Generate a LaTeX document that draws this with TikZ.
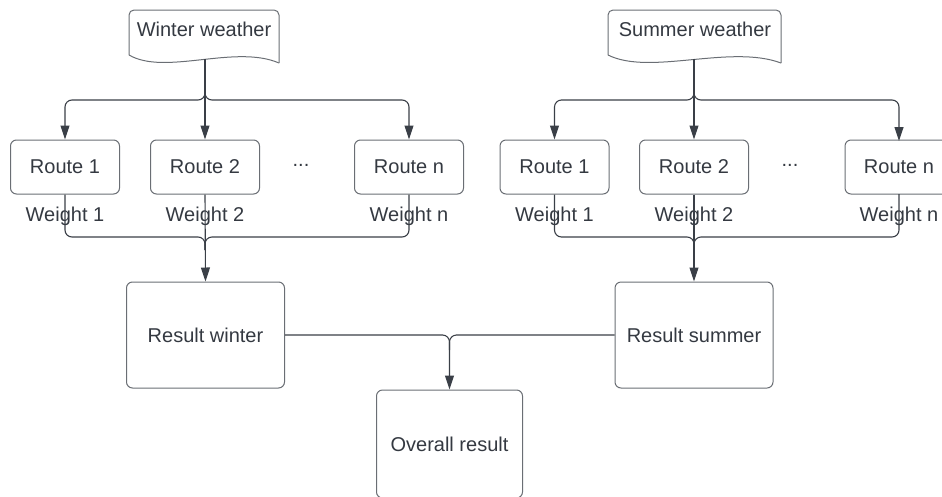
\documentclass[tikz,border=0pt]{standalone}
\usepackage{fontspec}
\setmainfont{Liberation Sans}
\usetikzlibrary{arrows.meta}
\definecolor{ink}{HTML}{3A3F47}
\definecolor{edge}{HTML}{6A6E74}
\definecolor{txt}{HTML}{343941}
\tikzset{
  lbl/.style={text=txt, font=\fontsize{20}{24}\selectfont, inner sep=0pt},
  routebox/.style={lbl, draw=edge, line width=1pt, rounded corners=6pt,
    minimum width=109pt, minimum height=54pt},
  resultbox/.style={lbl, draw=edge, line width=1pt, rounded corners=6pt,
    minimum width=158pt, minimum height=106pt},
  docshape/.style={draw=edge, line width=1pt},
  link/.style={draw=ink, line width=1.1pt, rounded corners=7pt},
  flow/.style={link, -{Triangle[length=14pt,width=9pt]}},
}
\begin{document}
\begin{tikzpicture}[x=1pt,y=-1pt]
\useasboundingbox (0,0) rectangle (942,496);
\clip (0,0) rectangle (942,496);

% weather documents (wavy-bottom shapes)
\draw[docshape, rounded corners=5pt] (129,55) -- (129,10) -- (279,10) -- (279,63);
\draw[docshape] (129,55) .. controls (165,76) and (235,44) .. (279,63);
\node[lbl] (ww) at (204,29) {Winter weather};
\coordinate (wwb) at (205,59);
\coordinate (wwj) at (205,88);

\draw[docshape, rounded corners=5pt] (608,55) -- (608,10) -- (781,10) -- (781,63);
\draw[docshape] (608,55) .. controls (650,76) and (730,44) .. (781,63);
\node[lbl] (sw) at (695,29) {Summer weather};
\coordinate (swb) at (694,59);
\coordinate (swj) at (694,88);

% winter routes
\node[routebox] (wr1) at (65,167) {Route 1};
\node[routebox] (wr2) at (205,167) {Route 2};
\node[routebox] (wrn) at (409,167) {Route n};
\node[lbl] (wdots) at (301,165) {...};
\node[lbl] (ww1) at (65,216) {Weight 1};
\node[lbl] (ww2) at (205,216) {Weight 2};
\node[lbl] (wwn) at (409,216) {Weight n};

% summer routes
\node[routebox] (sr1) at (554.5,167) {Route 1};
\node[routebox] (sr2) at (694,167) {Route 2};
\node[routebox, minimum width=110pt] (srn) at (900,167) {};
\node[lbl] (srnt) at (899,167) {Route n};
\node[lbl] (sdots) at (790,165) {...};
\node[lbl] (sw1) at (554.5,216) {Weight 1};
\node[lbl] (sw2) at (694,216) {Weight 2};
\node[lbl] (swn) at (899,216) {Weight n};

% results
\node[resultbox] (rw) at (205.5,335) {Result winter};
\node[resultbox] (rs) at (694,335) {Result summer};
\node[resultbox, minimum width=146pt, minimum height=108pt] (ov) at (449.5,444) {Overall result};

% fan-out from weather to routes
\draw[flow] (wwb) -- (wr2.north);
\draw[flow] (wwj) -- (205,100) -- (wr1.north |- 0,100) -- (wr1.north);
\draw[flow] (wwj) -- (205,100) -- (wrn.north |- 0,100) -- (wrn.north);

\draw[flow] (swb) -- (sr2.north);
\draw[flow] (swj) -- (694,100) -- (sr1.north |- 0,100) -- (sr1.north);
\draw[flow] (swj) -- (694,100) -- (899,100) -- (899,141);

% fan-in from routes to results
\draw[flow] (wr2.south) -- (rw.north);
\draw[link] (wr1.south) -- (wr1.south |- 0,237) -- (205,237) -- (205,250);
\draw[link] (wrn.south) -- (wrn.south |- 0,237) -- (205,237) -- (205,250);

\draw[flow] (sr2.south) -- (rs.north);
\draw[link] (sr1.south) -- (sr1.south |- 0,237) -- (694,237) -- (694,250);
\draw[link] (899,194) -- (899,237) -- (694,237) -- (694,250);

% results to overall
\draw[flow] (rw.east) -- (449.5,335) -- (ov.north);
\draw[link] (rs.west) -- (449.5,335) -- (449.5,350);
\end{tikzpicture}
\end{document}
